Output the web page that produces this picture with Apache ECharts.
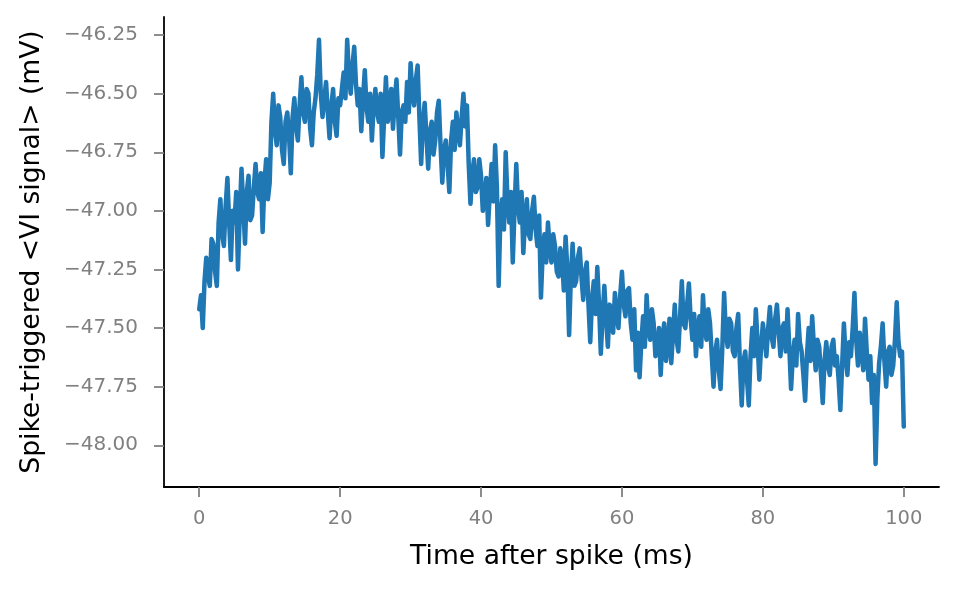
<!DOCTYPE html>
<html>
<head>
<meta charset="utf-8">
<script src="https://cdn.jsdelivr.net/npm/echarts@6/dist/echarts.min.js"></script>
<style>
html,body{margin:0;padding:0;background:#fff;}
#chart{width:958px;height:592px;}
</style>
</head>
<body>
<div id="chart"></div>
<script>
// Sampling step of the spike-triggered average (ms)
var sampleStepMs = 0.25;
// Spike-triggered <VI signal> values (mV), one per sample (rows = 5 ms)
var viSignal = [
  -47.42,-47.36,-47.50,-47.30,-47.20,-47.28,-47.32,-47.12,-47.14,-47.26,-47.32,-47.05,-46.95,-47.10,-47.15,-46.98,-46.86,-47.05,-47.21,-47.00,
  -47.05,-46.92,-47.25,-47.02,-46.82,-46.98,-47.14,-46.92,-46.85,-47.04,-47.02,-46.90,-46.80,-46.92,-46.95,-46.84,-47.09,-46.88,-46.78,-46.95,
  -46.88,-46.62,-46.50,-46.66,-46.72,-46.55,-46.60,-46.74,-46.80,-46.62,-46.58,-46.68,-46.84,-46.60,-46.52,-46.64,-46.70,-46.55,-46.43,-46.58,
  -46.62,-46.48,-46.50,-46.65,-46.72,-46.58,-46.52,-46.42,-46.27,-46.50,-46.60,-46.52,-46.45,-46.58,-46.69,-46.55,-46.48,-46.62,-46.68,-46.52,
  -46.55,-46.48,-46.41,-46.52,-46.27,-46.42,-46.50,-46.38,-46.30,-46.46,-46.55,-46.48,-46.66,-46.52,-46.40,-46.56,-46.62,-46.50,-46.70,-46.56,
  -46.48,-46.58,-46.62,-46.50,-46.77,-46.60,-46.43,-46.62,-46.58,-46.48,-46.65,-46.52,-46.44,-46.60,-46.76,-46.58,-46.55,-46.62,-46.45,-46.58,
  -46.37,-46.50,-46.55,-46.44,-46.38,-46.60,-46.80,-46.62,-46.54,-46.68,-46.82,-46.66,-46.62,-46.76,-46.70,-46.58,-46.53,-46.72,-46.88,-46.74,
  -46.70,-46.80,-46.92,-46.70,-46.62,-46.74,-46.58,-46.66,-46.72,-46.60,-46.50,-46.64,-46.55,-46.80,-46.97,-46.84,-46.78,-46.92,-46.90,-46.78,
  -46.85,-47.00,-46.95,-46.86,-47.06,-46.92,-46.80,-46.96,-46.72,-46.90,-47.32,-47.02,-46.95,-47.08,-46.75,-46.95,-47.05,-46.92,-47.22,-47.00,
  -46.80,-46.98,-47.05,-46.92,-47.18,-47.04,-46.95,-47.10,-47.12,-47.00,-46.94,-47.08,-47.15,-47.02,-47.37,-47.18,-47.10,-47.22,-47.05,-47.16,
  -47.22,-47.10,-47.15,-47.26,-47.28,-47.16,-47.20,-47.34,-47.11,-47.25,-47.53,-47.28,-47.14,-47.32,-47.30,-47.20,-47.16,-47.28,-47.38,-47.26,
  -47.22,-47.40,-47.56,-47.38,-47.30,-47.44,-47.24,-47.40,-47.61,-47.45,-47.32,-47.46,-47.58,-47.40,-47.42,-47.52,-47.35,-47.44,-47.50,-47.36,
  -47.26,-47.40,-47.45,-47.34,-47.33,-47.48,-47.55,-47.42,-47.68,-47.52,-47.71,-47.56,-47.45,-47.58,-47.36,-47.50,-47.55,-47.42,-47.48,-47.62,
  -47.60,-47.50,-47.70,-47.54,-47.48,-47.64,-47.58,-47.46,-47.65,-47.52,-47.40,-47.55,-47.60,-47.45,-47.30,-47.48,-47.50,-47.40,-47.31,-47.46,
  -47.55,-47.44,-47.62,-47.50,-47.45,-47.58,-47.36,-47.50,-47.55,-47.42,-47.48,-47.62,-47.75,-47.60,-47.55,-47.68,-47.76,-47.58,-47.35,-47.52,
  -47.58,-47.46,-47.48,-47.60,-47.62,-47.50,-47.44,-47.66,-47.83,-47.64,-47.60,-47.72,-47.83,-47.62,-47.50,-47.62,-47.42,-47.56,-47.72,-47.58,
  -47.48,-47.55,-47.62,-47.50,-47.41,-47.54,-47.58,-47.46,-47.40,-47.52,-47.62,-47.50,-47.48,-47.60,-47.42,-47.58,-47.76,-47.62,-47.55,-47.66,
  -47.44,-47.56,-47.60,-47.70,-47.81,-47.62,-47.50,-47.64,-47.45,-47.58,-47.68,-47.55,-47.58,-47.70,-47.82,-47.64,-47.56,-47.66,-47.70,-47.58,
  -47.55,-47.66,-47.62,-47.72,-47.85,-47.66,-47.48,-47.62,-47.70,-47.56,-47.62,-47.50,-47.35,-47.55,-47.66,-47.52,-47.58,-47.68,-47.46,-47.60,
  -47.72,-47.62,-47.82,-47.70,-48.08,-47.80,-47.65,-47.58,-47.48,-47.64,-47.75,-47.60,-47.58,-47.70,-47.66,-47.55,-47.39,-47.56,-47.62,-47.60,
  -47.92
];
var xTicks = [0, 20, 40, 60, 80, 100];
var yTicks = [-48.00, -47.75, -47.50, -47.25, -47.00, -46.75, -46.50, -46.25];
var xTitle = 'Time after spike (ms)';
var yTitle = 'Spike-triggered <VI signal> (mV)';

var seriesData = viSignal.map(function (v, i) { return [i * sampleStepMs, v]; });

var chart = echarts.init(document.getElementById('chart'), null, {renderer: 'canvas'});
var font = 'DejaVu Sans';
chart.setOption({
  animation: false,
  backgroundColor: '#ffffff',
  grid: {left: 164, right: 19, top: 17, bottom: 105, containLabel: false},
  xAxis: {
    type: 'value', min: -5, max: 105,
    name: xTitle, nameLocation: 'middle', nameGap: 57,
    nameTextStyle: {fontFamily: font, fontSize: 26.6, color: '#000'},
    axisLine: {show: true, onZero: false, lineStyle: {color: '#000', width: 1.8}},
    axisTick: {show: true, length: 10, customValues: xTicks, lineStyle: {color: '#808080', width: 1.8}},
    axisLabel: {customValues: xTicks, margin: 22, fontFamily: font, fontSize: 19.5, color: '#808080'},
    splitLine: {show: false}
  },
  yAxis: {
    type: 'value', min: -48.178, max: -46.173,
    name: yTitle, nameLocation: 'middle', nameGap: 118, nameRotate: 90,
    nameTextStyle: {fontFamily: font, fontSize: 26.6, color: '#000'},
    axisLine: {show: true, onZero: false, lineStyle: {color: '#000', width: 1.8}},
    axisTick: {show: true, length: 10, customValues: yTicks, lineStyle: {color: '#808080', width: 1.8}},
    axisLabel: {customValues: yTicks, margin: 26, fontFamily: font, fontSize: 20, color: '#808080',
      formatter: function (v) { return (v < 0 ? '\u2212' : '') + Math.abs(v).toFixed(2); }},
    splitLine: {show: false}
  },
  series: [{
    type: 'line', data: seriesData, showSymbol: false, symbol: 'none',
    lineStyle: {color: '#1f77b4', width: 4.5, join: 'round', cap: 'round'},
    clip: false
  }]
});
</script>
</body>
</html>
